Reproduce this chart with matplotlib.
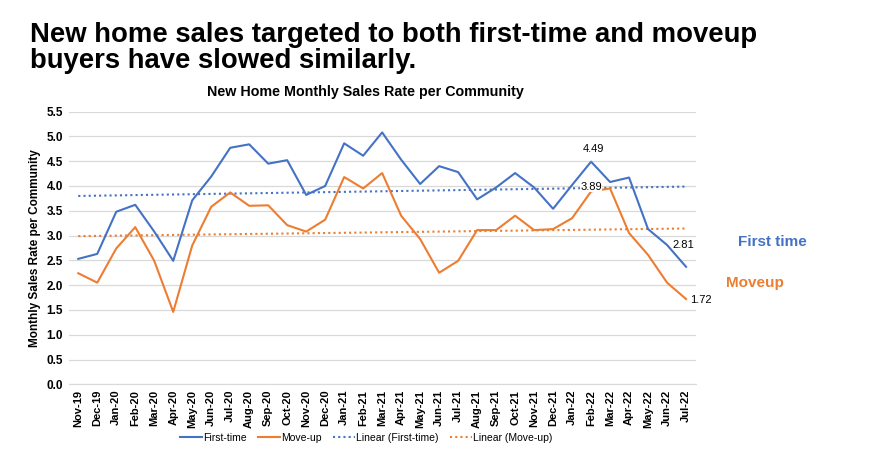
import matplotlib
matplotlib.use("Agg")
import matplotlib.pyplot as plt
import numpy as np

# ==============================================================
# DATOS
# ==============================================================
months = ["Nov-19", "Dec-19",
          "Jan-20", "Feb-20", "Mar-20", "Apr-20", "May-20", "Jun-20",
          "Jul-20", "Aug-20", "Sep-20", "Oct-20", "Nov-20", "Dec-20",
          "Jan-21", "Feb-21", "Mar-21", "Apr-21", "May-21", "Jun-21",
          "Jul-21", "Aug-21", "Sep-21", "Oct-21", "Nov-21", "Dec-21",
          "Jan-22", "Feb-22", "Mar-22", "Apr-22", "May-22", "Jun-22", "Jul-22"]

first_time = [2.53, 2.63, 3.48, 3.62, 3.08, 2.49, 3.71, 4.19, 4.77, 4.84,
              4.45, 4.52, 3.82, 4.00, 4.86, 4.61, 5.08, 4.53, 4.04, 4.40,
              4.28, 3.73, 3.97, 4.26, 3.97, 3.54, 4.02, 4.49, 4.08, 4.17,
              3.13, 2.81, 2.37]

move_up = [2.24, 2.05, 2.74, 3.17, 2.49, 1.46, 2.80, 3.58, 3.87, 3.60,
           3.61, 3.21, 3.08, 3.32, 4.18, 3.95, 4.26, 3.40, 2.93, 2.25,
           2.49, 3.11, 3.11, 3.40, 3.11, 3.13, 3.35, 3.89, 3.95, 3.05,
           2.61, 2.05, 1.72]

y_ticks = [0.0, 0.5, 1.0, 1.5, 2.0, 2.5, 3.0, 3.5, 4.0, 4.5, 5.0, 5.5]

# indices con etiqueta de valor
labels_ft = [27, 31]
labels_mu = [27, 32]

BLUE = "#4472C4"
ORANGE = "#ED7D31"

plt.rcParams['font.family'] = ['Liberation Sans', 'DejaVu Sans']

# ==============================================================
# GRÁFICA
# ==============================================================
fig = plt.figure(figsize=(8.76, 4.5), dpi=100)
ax = fig.add_axes([0.0785, 0.146, 0.7155, 0.606])

x = np.arange(len(months))

# tendencias lineales
pf = np.polyfit(x, first_time, 1)
pm = np.polyfit(x, move_up, 1)

ax.plot(x, first_time, color=BLUE, lw=1.5, label="First-time", zorder=3)
ax.plot(x, move_up, color=ORANGE, lw=1.5, label="Move-up", zorder=3)
ax.plot(x, np.polyval(pf, x), color=BLUE, lw=1.5, ls=(0, (1, 1.5)),
        label="Linear (First-time)", zorder=2)
ax.plot(x, np.polyval(pm, x), color=ORANGE, lw=1.5, ls=(0, (1, 1.5)),
        label="Linear (Move-up)", zorder=2)

ax.set_xlim(-0.5, len(months) - 0.5)
ax.set_ylim(0, 5.5)
ax.set_yticks(y_ticks)
ax.set_yticklabels([f"{v:.1f}" for v in y_ticks], fontsize=8.5, fontweight='bold')
ax.set_xticks(x)
ax.set_xticklabels(months, rotation=90, fontsize=8, fontweight='bold')
ax.tick_params(axis='both', length=0, pad=4)

ax.grid(axis='y', color='#D9D9D9', lw=0.9)
ax.set_axisbelow(True)
for s in ["top", "right", "left"]:
    ax.spines[s].set_visible(False)
ax.spines["bottom"].set_color('#D9D9D9')

ax.set_ylabel("Monthly Sales Rate per Community", fontsize=8.5,
              fontweight='bold', labelpad=4)

# etiquetas de datos
ax.annotate(f"{first_time[labels_ft[0]]:.2f}", (labels_ft[0], first_time[labels_ft[0]]),
            xytext=(2, 9), textcoords='offset points', ha='center', va='center',
            fontsize=8, arrowprops=dict(arrowstyle='-', color='#A6A6A6', lw=0.6,
                                        shrinkA=3, shrinkB=1))
ax.annotate(f"{move_up[labels_mu[0]]:.2f}", (labels_mu[0], move_up[labels_mu[0]]),
            xytext=(0, 3), textcoords='offset points', ha='center', va='center',
            fontsize=8, bbox=dict(facecolor='white', edgecolor='none', pad=0))
ax.annotate(f"{first_time[labels_ft[1]]:.2f}", (labels_ft[1], first_time[labels_ft[1]]),
            xytext=(12, 0), textcoords='offset points', ha='center', va='center',
            fontsize=8)
ax.annotate(f"{move_up[labels_mu[1]]:.2f}", (labels_mu[1], move_up[labels_mu[1]]),
            xytext=(11, -1), textcoords='offset points', ha='center', va='center',
            fontsize=8)

# títulos
fig.text(0.034, 0.952, "New home sales targeted to both first-time and moveup\n"
         "buyers have slowed similarly.", fontsize=19.8, fontweight='bold',
         ha='left', va='top', linespacing=1.0)
fig.text(0.417, 0.795, "New Home Monthly Sales Rate per Community", fontsize=10.3,
         fontweight='bold', ha='center', va='center')

# etiquetas de serie a la derecha
fig.text(0.842, 0.462, "First time", color=BLUE, fontsize=11,
         fontweight='bold', ha='left', va='center')
fig.text(0.829, 0.371, "Moveup", color=ORANGE, fontsize=11,
         fontweight='bold', ha='left', va='center')

fig.legend(loc='center', bbox_to_anchor=(0.418, 0.027), ncol=4, frameon=False,
           fontsize=7.5, handlelength=2.1, columnspacing=1.1, handletextpad=0.1)

plt.savefig("out.png", dpi=100)
